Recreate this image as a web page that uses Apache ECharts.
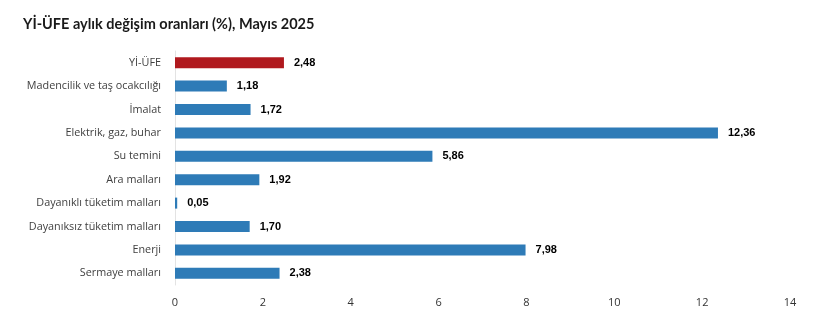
<!DOCTYPE html>
<html><head><meta charset="utf-8">
<script src="https://cdn.jsdelivr.net/npm/echarts@6/dist/echarts.min.js"></script>
<style>html,body{margin:0;padding:0;background:#fff}#c{width:821px;height:324px}</style>
</head><body><div id="c"></div>
<script>
const categories = ["Yİ-ÜFE","Madencilik ve taş ocakcılığı","İmalat","Elektrik, gaz, buhar","Su temini","Ara malları","Dayanıklı tüketim malları","Dayanıksız tüketim malları","Enerji","Sermaye malları"];
const values = [2.48,1.18,1.72,12.36,5.86,1.92,0.05,1.70,7.98,2.38];
const highlightIndex = 0;
const xTicks = [0,2,4,6,8,10,12,14];

const chart = echarts.init(document.getElementById('c'));
const font = '"Open Sans", "Noto Sans", sans-serif';
chart.setOption({
  animation:false,
  title:{text:'Yİ-ÜFE aylık değişim oranları (%), Mayıs 2025',left:18,top:12,
    textStyle:{fontFamily:'Lato, sans-serif',fontSize:14.5,fontWeight:'bold',color:'#1a1a1a'}},
  grid:{left:175,right:31,top:51,bottom:39,containLabel:false},
  xAxis:{type:'value',min:xTicks[0],max:xTicks[xTicks.length-1],interval:2,
    axisLine:{show:false},axisTick:{show:false},splitLine:{show:false},
    axisLabel:{fontFamily:font,fontSize:11,color:'#333',margin:12}},
  yAxis:{type:'category',inverse:true,data:categories,
    axisLine:{show:true,lineStyle:{color:'#e3e3e3',width:1}},axisTick:{show:false},
    axisLabel:{fontFamily:font,fontSize:10.8,color:'#404040',margin:14}},
  series:[{type:'bar',barWidth:11,
    data:values.map((v,i)=>({value:v,itemStyle:{color:i===highlightIndex?'#b0191e':'#2e7bb7'}})),
    label:{show:true,position:'right',distance:10,fontFamily:'Arial, "Liberation Sans", sans-serif',fontSize:11,fontWeight:'bold',color:'#000',
      formatter:p=>p.value.toFixed(2).replace('.',',')},
    markLine:{silent:true,symbol:'none',label:{show:false},lineStyle:{color:'#e3e3e3',type:'solid',width:1},
      data:[[{coord:[xTicks[0],categories.length-0.5]},{coord:[xTicks[xTicks.length-1],categories.length-0.5]}]]}
  }]
});
</script></body></html>
